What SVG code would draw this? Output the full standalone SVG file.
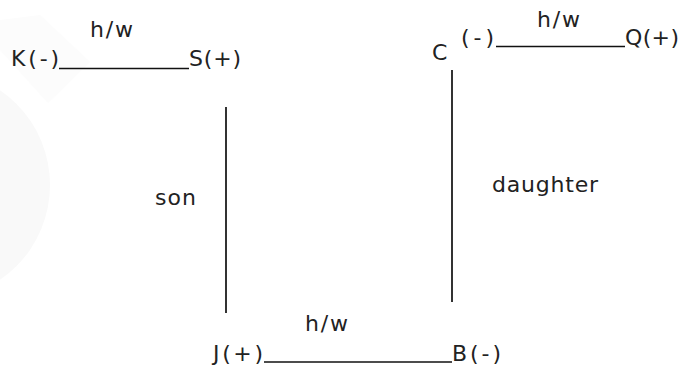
<svg xmlns="http://www.w3.org/2000/svg" width="681" height="367" viewBox="0 0 681 367">
<style>
text{font-family:"DejaVu Sans","Verdana",sans-serif;font-size:22px;fill:#222}
.rel{stroke:#111;stroke-width:1.6}
.gen{stroke:#333;stroke-width:2}
</style>
<rect width="681" height="367" fill="#fff"/>
<g id="watermark">
<circle cx="-65" cy="185" r="115" fill="#f9f9f9"/>
<polygon points="0,50 48,103 90,62 40,15 0,20" fill="#fcfcfc"/>
</g>
<g id="connectors">
<line class="rel" x1="59" y1="68.5" x2="189" y2="68.5"/>
<line class="rel" x1="496" y1="46.5" x2="625" y2="46.5"/>
<line class="rel" x1="264" y1="362" x2="452" y2="362"/>
<line class="gen" x1="226" y1="107" x2="226" y2="313"/>
<line class="gen" x1="452" y1="70" x2="452" y2="302"/>
</g>
<g id="labels">
<text x="90" y="37" textLength="43" lengthAdjust="spacing">h/w</text>
<text x="537" y="27" textLength="43" lengthAdjust="spacing">h/w</text>
<text x="305" y="331" textLength="43" lengthAdjust="spacing">h/w</text>
<text x="155" y="205" textLength="41" lengthAdjust="spacing">son</text>
<text x="492" y="192" textLength="106" lengthAdjust="spacing">daughter</text>
</g>
<g id="node-K"><text x="11" y="66" textLength="48" lengthAdjust="spacing">K(-)</text></g>
<g id="node-S"><text x="189" y="66" textLength="52" lengthAdjust="spacing">S(+)</text></g>
<g id="node-C"><text x="432" y="60">C</text><text x="461" y="45" textLength="33" lengthAdjust="spacing">(-)</text></g>
<g id="node-Q"><text x="625" y="45" textLength="54" lengthAdjust="spacing">Q(+)</text></g>
<g id="node-J"><text x="213" y="361" textLength="50" lengthAdjust="spacing">J(+)</text></g>
<g id="node-B"><text x="452" y="361" textLength="49" lengthAdjust="spacing">B(-)</text></g>
</svg>
